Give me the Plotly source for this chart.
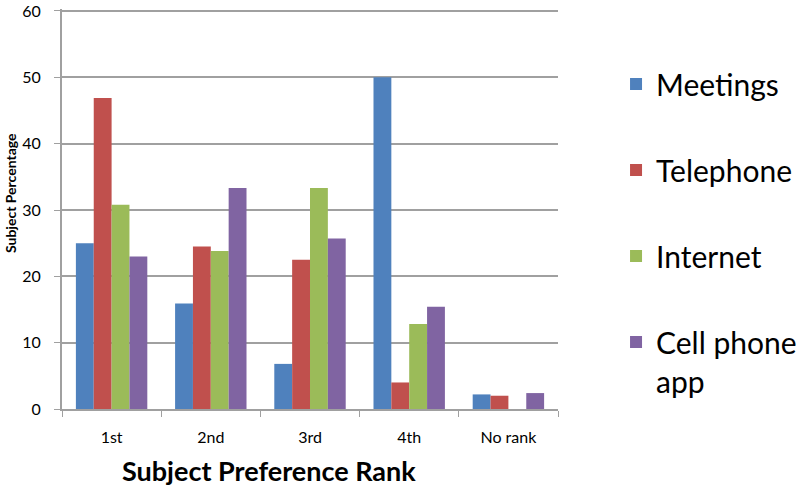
import plotly.graph_objects as go

ranks = ["1st", "2nd", "3rd", "4th", "No rank"]
meetings = [25.0, 15.9, 6.8, 50.0, 2.2]
telephone = [46.9, 24.5, 22.5, 4.0, 2.0]
internet = [30.8, 23.8, 33.3, 12.8, 0]
cell_app = [23.0, 33.3, 25.7, 15.4, 2.4]
y_ticks = [0, 10, 20, 30, 40, 50, 60]

series = [
    ("Meetings", meetings, "#4F81BD"),
    ("Telephone", telephone, "#C0504D"),
    ("Internet", internet, "#9BBB59"),
    ("Cell phone<br>app", cell_app, "#8064A2"),
]

fig = go.Figure()
for i, (name, vals, col) in enumerate(series):
    fig.add_trace(go.Bar(
        x=ranks, y=vals, name=name,
        marker=dict(color=col, line=dict(width=0)),
        legendgroup=str(i),
    ))

fig.update_layout(
    width=800, height=496,
    margin=dict(l=62, r=242, t=9, b=87, autoexpand=False),
    plot_bgcolor="white", paper_bgcolor="white",
    font=dict(family="Lato, Open Sans, sans-serif", color="#000000"),
    barmode="group", bargap=0.28, bargroupgap=0,
    legend=dict(
        x=1.117, y=0.8775, xanchor="left", yanchor="top",
        font=dict(size=30), tracegroupgap=44, valign="top",
        itemclick=False,
    ),
    xaxis=dict(
        tickfont=dict(size=16),
        showline=True, linecolor="#A0A0A0", linewidth=2,
        ticks="outside", tickcolor="#A0A0A0", ticklen=6,
        ticklabelstandoff=13,
        tickson="boundaries", automargin=False,
    ),
    yaxis=dict(
        range=[0, 60.3], tickvals=y_ticks,
        tickfont=dict(size=16),
        showgrid=True, gridcolor="#A0A0A0", gridwidth=1.5,
        showline=True, linecolor="#A0A0A0", linewidth=2,
        ticks="outside", tickcolor="#A0A0A0", ticklen=6,
        ticklabelstandoff=10,
        zeroline=False, automargin=False,
    ),
    annotations=[
        dict(
            text="<b>Subject Percentage</b>", textangle=-90,
            xref="paper", yref="paper", x=-0.1048, y=0.54,
            xanchor="center", yanchor="middle", showarrow=False,
            font=dict(size=14),
        ),
        dict(
            text="<b>Subject Preference Rank</b>",
            xref="paper", yref="paper", x=0.417, y=-0.1525,
            xanchor="center", yanchor="middle", showarrow=False,
            font=dict(size=27),
        ),
    ],
)

# drop the default 8px body margin so the figure fills the window exactly
fig.write_html("out.html", config={"displayModeBar": False},
               post_script="document.body.style.margin='0';")
